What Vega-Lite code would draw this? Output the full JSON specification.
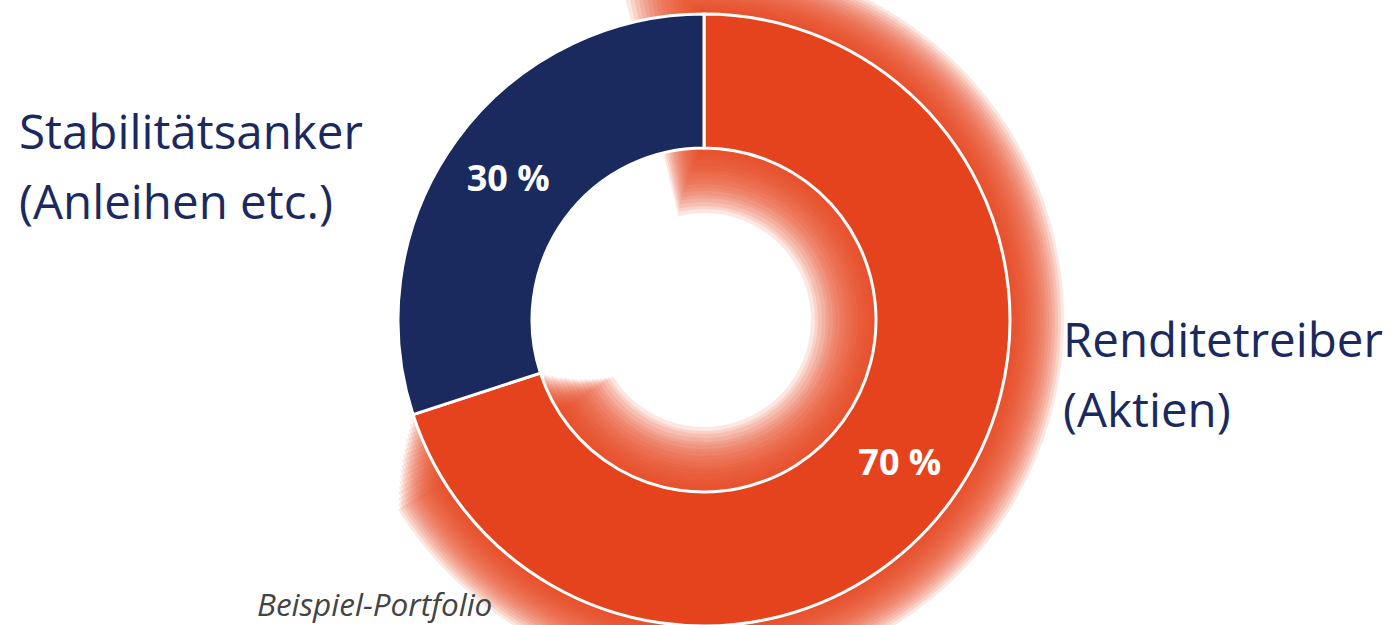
{
  "$schema": "https://vega.github.io/schema/vega-lite/v6.json",
  "width": 1394,
  "height": 625,
  "autosize": {"type": "fit", "contains": "padding"},
  "padding": {"left": 14, "top": 15, "right": 0, "bottom": 0},
  "background": "white",
  "view": {"stroke": null},
  "config": {"font": "Open Sans"},
  "data": {
    "values": [
      {"category": "Renditetreiber", "label": "Renditetreiber\n(Aktien)", "value": 70, "pct": "70 %"},
      {"category": "Stabilitätsanker", "label": "Stabilitätsanker\n(Anleihen etc.)", "value": 30, "pct": "30 %"}
    ]
  },
  "encoding": {
    "theta": {"field": "value", "type": "quantitative", "stack": true},
    "order": {"field": "value", "type": "quantitative", "sort": "descending"},
    "color": {
      "field": "category", "type": "nominal",
      "scale": {"domain": ["Renditetreiber", "Stabilitätsanker"], "range": ["#e5431d", "#1a2a5f"]},
      "legend": null
    }
  },
  "layer": [
    {
      "encoding": {"opacity": {"condition": {"test": "datum.category === 'Renditetreiber'", "value": 0.13}, "value": 0}},
      "layer": [
        {"mark": {"type": "arc", "radius": 360, "radius2": 107, "thetaOffset": -0.24, "theta2Offset": 0.24}},
        {"mark": {"type": "arc", "radius": 357, "radius2": 111, "thetaOffset": -0.227, "theta2Offset": 0.227}},
        {"mark": {"type": "arc", "radius": 354, "radius2": 114, "thetaOffset": -0.214, "theta2Offset": 0.214}},
        {"mark": {"type": "arc", "radius": 351, "radius2": 118, "thetaOffset": -0.20, "theta2Offset": 0.20}},
        {"mark": {"type": "arc", "radius": 348, "radius2": 122, "thetaOffset": -0.187, "theta2Offset": 0.187}},
        {"mark": {"type": "arc", "radius": 345, "radius2": 125, "thetaOffset": -0.174, "theta2Offset": 0.174}},
        {"mark": {"type": "arc", "radius": 342, "radius2": 129, "thetaOffset": -0.16, "theta2Offset": 0.16}},
        {"mark": {"type": "arc", "radius": 339, "radius2": 132, "thetaOffset": -0.147, "theta2Offset": 0.147}},
        {"mark": {"type": "arc", "radius": 336, "radius2": 136, "thetaOffset": -0.134, "theta2Offset": 0.134}},
        {"mark": {"type": "arc", "radius": 333, "radius2": 140, "thetaOffset": -0.12, "theta2Offset": 0.12}},
        {"mark": {"type": "arc", "radius": 330, "radius2": 143, "thetaOffset": -0.107, "theta2Offset": 0.107}},
        {"mark": {"type": "arc", "radius": 327, "radius2": 147, "thetaOffset": -0.094, "theta2Offset": 0.094}},
        {"mark": {"type": "arc", "radius": 324, "radius2": 150, "thetaOffset": -0.08, "theta2Offset": 0.08}},
        {"mark": {"type": "arc", "radius": 321, "radius2": 154, "thetaOffset": -0.067, "theta2Offset": 0.067}},
        {"mark": {"type": "arc", "radius": 318, "radius2": 158, "thetaOffset": -0.054, "theta2Offset": 0.054}},
        {"mark": {"type": "arc", "radius": 315, "radius2": 161, "thetaOffset": -0.04, "theta2Offset": 0.04}},
        {"mark": {"type": "arc", "radius": 312, "radius2": 165, "thetaOffset": -0.027, "theta2Offset": 0.027}},
        {"mark": {"type": "arc", "radius": 309, "radius2": 168, "thetaOffset": -0.014, "theta2Offset": 0.014}}
      ]
    },
    {"mark": {"type": "arc", "radius": 306, "radius2": 172, "stroke": "white", "strokeWidth": 3}},
    {"mark": {"type": "text", "radius": 242, "dy": 2, "fontSize": 36, "fontWeight": "bold", "font": "Open Sans"},
     "encoding": {"text": {"field": "pct"}, "detail": {"field": "category"}, "color": {"value": "white"}}},
    {"transform": [{"filter": "datum.category === 'Stabilitätsanker'"}],
     "mark": {"type": "text", "align": "left", "baseline": "alphabetic", "dx": -685, "dy": -171, "fontSize": 47.5, "lineHeight": 70, "lineBreak": "\n", "font": "Open Sans"},
     "encoding": {"theta": null, "order": null, "text": {"field": "label"}, "color": {"value": "#1a2a5f"}}},
    {"transform": [{"filter": "datum.category === 'Renditetreiber'"}],
     "mark": {"type": "text", "align": "left", "baseline": "alphabetic", "dx": 359, "dy": 37, "fontSize": 47.5, "lineHeight": 70, "lineBreak": "\n", "font": "Open Sans"},
     "encoding": {"theta": null, "order": null, "text": {"field": "label"}, "color": {"value": "#1a2a5f"}}},
    {"data": {"values": [{"note": "Beispiel-Portfolio"}]},
     "mark": {"type": "text", "align": "left", "baseline": "alphabetic", "dx": -447, "dy": 296, "fontSize": 31.5, "fontStyle": "italic", "font": "Open Sans"},
     "encoding": {"theta": null, "order": null, "text": {"field": "note"}, "color": {"value": "#444444"}}}
  ]
}
